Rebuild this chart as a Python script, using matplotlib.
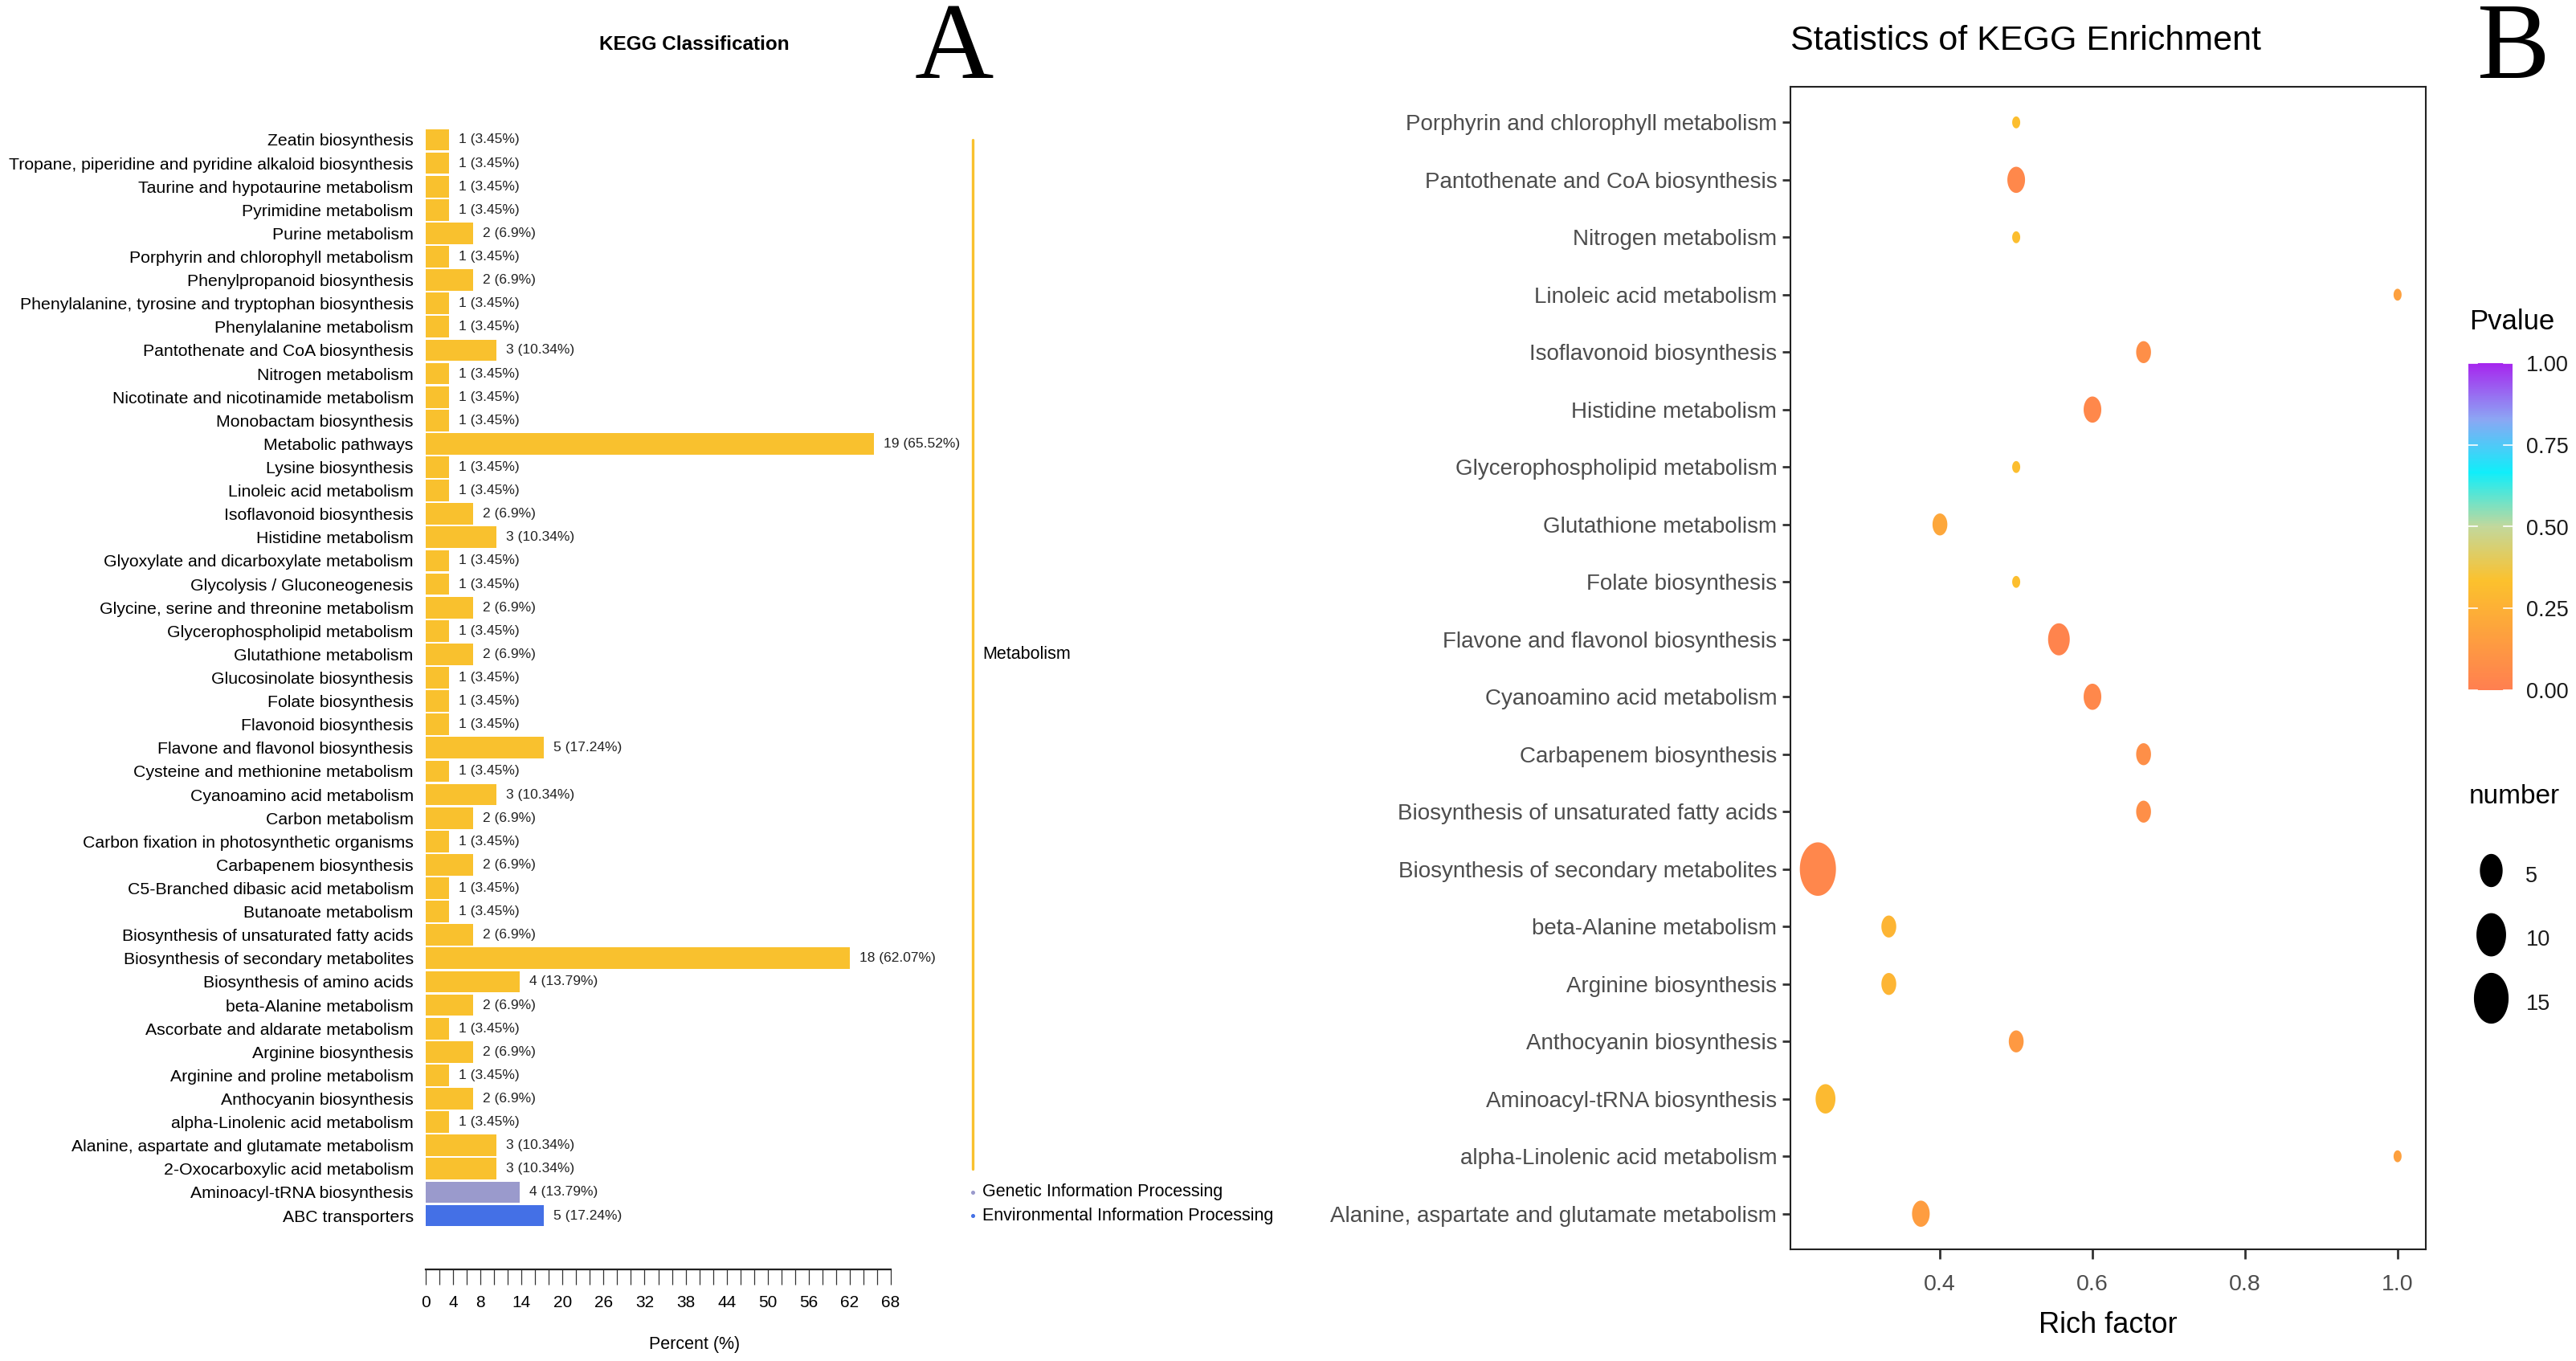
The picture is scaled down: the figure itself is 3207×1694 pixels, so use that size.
import numpy as np
import matplotlib.pyplot as plt
import matplotlib.cm as cm
from matplotlib.colors import LinearSegmentedColormap, Normalize
from matplotlib.path import Path
from matplotlib.lines import Line2D

plt.rcParams['font.family'] = ['Liberation Sans', 'DejaVu Sans']

# ---- panel A: KEGG classification (top to bottom) ----
pathways = [
    "Zeatin biosynthesis",
    "Tropane, piperidine and pyridine alkaloid biosynthesis",
    "Taurine and hypotaurine metabolism",
    "Pyrimidine metabolism",
    "Purine metabolism",
    "Porphyrin and chlorophyll metabolism",
    "Phenylpropanoid biosynthesis",
    "Phenylalanine, tyrosine and tryptophan biosynthesis",
    "Phenylalanine metabolism",
    "Pantothenate and CoA biosynthesis",
    "Nitrogen metabolism",
    "Nicotinate and nicotinamide metabolism",
    "Monobactam biosynthesis",
    "Metabolic pathways",
    "Lysine biosynthesis",
    "Linoleic acid metabolism",
    "Isoflavonoid biosynthesis",
    "Histidine metabolism",
    "Glyoxylate and dicarboxylate metabolism",
    "Glycolysis / Gluconeogenesis",
    "Glycine, serine and threonine metabolism",
    "Glycerophospholipid metabolism",
    "Glutathione metabolism",
    "Glucosinolate biosynthesis",
    "Folate biosynthesis",
    "Flavonoid biosynthesis",
    "Flavone and flavonol biosynthesis",
    "Cysteine and methionine metabolism",
    "Cyanoamino acid metabolism",
    "Carbon metabolism",
    "Carbon fixation in photosynthetic organisms",
    "Carbapenem biosynthesis",
    "C5-Branched dibasic acid metabolism",
    "Butanoate metabolism",
    "Biosynthesis of unsaturated fatty acids",
    "Biosynthesis of secondary metabolites",
    "Biosynthesis of amino acids",
    "beta-Alanine metabolism",
    "Ascorbate and aldarate metabolism",
    "Arginine biosynthesis",
    "Arginine and proline metabolism",
    "Anthocyanin biosynthesis",
    "alpha-Linolenic acid metabolism",
    "Alanine, aspartate and glutamate metabolism",
    "2-Oxocarboxylic acid metabolism",
    "Aminoacyl-tRNA biosynthesis",
    "ABC transporters",
]
counts = [1, 1, 1, 1, 2, 1, 2, 1, 1, 3, 1, 1, 1, 19, 1, 1, 2, 3, 1, 1, 2, 1, 2, 1, 1,
          1, 5, 1, 3, 2, 1, 2, 1, 1, 2, 18, 4, 2, 1, 2, 1, 2, 1, 3, 3, 4, 5]
classes = (["Metabolism"] * 45
           + ["Genetic Information Processing", "Environmental Information Processing"])
total_genes = 29
class_colors = {
    "Metabolism": "#F9C12E",
    "Genetic Information Processing": "#9A9ACC",
    "Environmental Information Processing": "#4470E6",
}

# ---- panel B: KEGG enrichment (top to bottom) ----
terms = [
    "Porphyrin and chlorophyll metabolism",
    "Pantothenate and CoA biosynthesis",
    "Nitrogen metabolism",
    "Linoleic acid metabolism",
    "Isoflavonoid biosynthesis",
    "Histidine metabolism",
    "Glycerophospholipid metabolism",
    "Glutathione metabolism",
    "Folate biosynthesis",
    "Flavone and flavonol biosynthesis",
    "Cyanoamino acid metabolism",
    "Carbapenem biosynthesis",
    "Biosynthesis of unsaturated fatty acids",
    "Biosynthesis of secondary metabolites",
    "beta-Alanine metabolism",
    "Arginine biosynthesis",
    "Anthocyanin biosynthesis",
    "Aminoacyl-tRNA biosynthesis",
    "alpha-Linolenic acid metabolism",
    "Alanine, aspartate and glutamate metabolism",
]
rich = [0.5, 0.5, 0.5, 1.0, 0.667, 0.6, 0.5, 0.4, 0.5, 0.556,
        0.6, 0.667, 0.667, 0.24, 0.333, 0.333, 0.5, 0.25, 1.0, 0.375]
number = [1, 3, 1, 1, 2, 3, 1, 2, 1, 5, 3, 2, 2, 18, 2, 2, 2, 4, 1, 3]
pvalue = [0.32, 0.05, 0.32, 0.17, 0.08, 0.05, 0.32, 0.2, 0.32, 0.03,
          0.05, 0.08, 0.08, 0.04, 0.27, 0.27, 0.13, 0.3, 0.17, 0.15]

W, H = 3207, 1694
fig = plt.figure(figsize=(W / 100, H / 100), dpi=100)


def box(x0, y0, x1, y1):
    # pixel box (top-left origin) -> figure fraction
    return [x0 / W, 1 - y1 / H, (x1 - x0) / W, (y1 - y0) / H]


# ================= panel A =================
axA = fig.add_axes(box(530, 160, 1109, 1580))
n = len(pathways)
ypos = np.arange(n)[::-1]
pct = [100 * c / total_genes for c in counts]
axA.barh(ypos, pct, height=0.92, color=[class_colors[c] for c in classes])
for y, c, p in zip(ypos, counts, pct):
    axA.annotate(f"{c} ({round(p, 2):g}%)", (p, y), xytext=(8.5, 0),
                 textcoords='offset points', va='center', ha='left',
                 fontsize=12.5, color='#222222')
axA.set_yticks(ypos)
axA.set_yticklabels(pathways, fontsize=15.3)
axA.tick_params(axis='y', length=0, pad=11)
axA.set_xlim(0, 68)
axA.set_ylim(-2.3, n - 1 + 0.48)

xt = np.arange(0, 69, 2)
labeled = [0, 4, 8] + list(range(14, 69, 6))
axA.set_xticks(xt)
axA.set_xticklabels([str(t) if t in labeled else '' for t in xt], fontsize=15)
axA.tick_params(axis='x', length=13.7, width=0.9, color='#333333', pad=9)
for s in ['left', 'right', 'top']:
    axA.spines[s].set_visible(False)
axA.spines['bottom'].set_linewidth(1.6)
axA.spines['bottom'].set_color('#222222')
axA.set_xlabel('Percent (%)', fontsize=15.5)
axA.xaxis.set_label_coords(0.577, -0.0655)
axA.xaxis.label.set_va('center')

# class brackets
for cls, col in class_colors.items():
    idx = [i for i, c in enumerate(classes) if c == cls]
    y_top, y_bot = ypos[idx[0]], ypos[idx[-1]]
    if y_top == y_bot:
        axA.plot([80], [y_top], marker='o', ms=2.6, color=col, clip_on=False)
    else:
        axA.plot([80, 80], [y_bot, y_top], color=col, lw=2.4,
                 solid_capstyle='round', clip_on=False)
    axA.text(81.4, (y_top + y_bot) / 2, cls, va='center', ha='left', fontsize=15.5)

fig.text(864 / W, 1 - 55 / H, 'KEGG Classification', fontsize=17.5,
         fontweight='bold', ha='center', va='center')
fig.text(1188 / W, 1 - 97 / H, 'A', family='Liberation Serif', fontsize=98,
         ha='center', va='baseline')

# ================= panel B =================
pv_cmap = LinearSegmentedColormap.from_list(
    'pv', [(0, '#FF7F50'), (1 / 3, '#FCC12D'), (0.5, '#C2D89C'), (2 / 3, '#10EEFA'),
           (0.83, '#8CA6F4'), (1, '#A626EE')])

t = np.linspace(0, 2 * np.pi, 80)
ell = Path(np.column_stack([np.cos(t) / 1.48, np.sin(t)]), closed=True)

nmin, nmax = min(number), max(number)


def dot_height(v):
    return 1.48 * (10 + 35 * np.sqrt((v - nmin) / (nmax - nmin)))


axB = fig.add_axes(box(2229, 108, 3020, 1555))
yb = np.arange(len(terms))[::-1]
axB.scatter(rich, yb, s=[(dot_height(v) * 0.72) ** 2 for v in number],
            c=pvalue, cmap=pv_cmap, vmin=0, vmax=1, marker=ell, linewidths=0)
axB.set_xlim(0.204, 1.037)
axB.set_ylim(-0.62, len(terms) - 1 + 0.62)
axB.set_xticks([0.4, 0.6, 0.8, 1.0])
axB.set_xticklabels(['0.4', '0.6', '0.8', '1.0'], fontsize=20.5, color='#4D4D4D')
axB.set_yticks(yb)
axB.set_yticklabels(terms, fontsize=20, color='#4D4D4D')
axB.tick_params(axis='y', length=7, width=2, color='#333333', pad=5)
axB.tick_params(axis='x', length=8.5, width=2, color='#333333', pad=14)
for s in axB.spines.values():
    s.set_linewidth(1.5)
    s.set_color('#222222')
axB.set_xlabel('Rich factor', fontsize=26)
axB.xaxis.set_label_coords(0.5, -0.0655)
axB.xaxis.label.set_va('center')

fig.text(2229 / W, 1 - 51 / H, 'Statistics of KEGG Enrichment', fontsize=31,
         ha='left', va='center')
fig.text(3128 / W, 1 - 97 / H, 'B', family='Liberation Serif', fontsize=98,
         ha='center', va='baseline')

# Pvalue colour bar
fig.text(3074 / W, 1 - 401 / H, 'Pvalue', fontsize=25, ha='left', va='center')
cax = fig.add_axes(box(3073, 452, 3128, 859))
cb = fig.colorbar(cm.ScalarMappable(Normalize(0, 1), pv_cmap), cax=cax)
cb.outline.set_visible(False)
cb_ticks = [0, 0.25, 0.5, 0.75, 1.0]
cb.set_ticks(cb_ticks)
cb.set_ticklabels([f"{v:.2f}" for v in cb_ticks])
cax.tick_params(length=0, pad=12, labelsize=19.5, labelcolor='#1A1A1A')
for v in cb_ticks:
    cax.axhline(v, 0, 0.2, color='white', lw=1.2)
    cax.axhline(v, 0.8, 1, color='white', lw=1.2)

# size legend
fig.text(3074 / W, 1 - 992 / H, 'number', fontsize=24, ha='left', va='center')
leg_vals = [5, 10, 15]
handles = [Line2D([], [], marker=ell, ms=dot_height(v) * 0.72, color='black',
                  linestyle='none') for v in leg_vals]
axB.legend(handles, [str(v) for v in leg_vals], loc='upper left',
           bbox_to_anchor=(3074 / W, 1 - 1068 / H), bbox_transform=fig.transFigure,
           frameon=False, fontsize=19.5, handlelength=2.0, handleheight=2.0,
           labelspacing=1.4, handletextpad=0.6, borderpad=0, borderaxespad=0,
           labelcolor='#1A1A1A')

fig.savefig('out.png', dpi=100)
